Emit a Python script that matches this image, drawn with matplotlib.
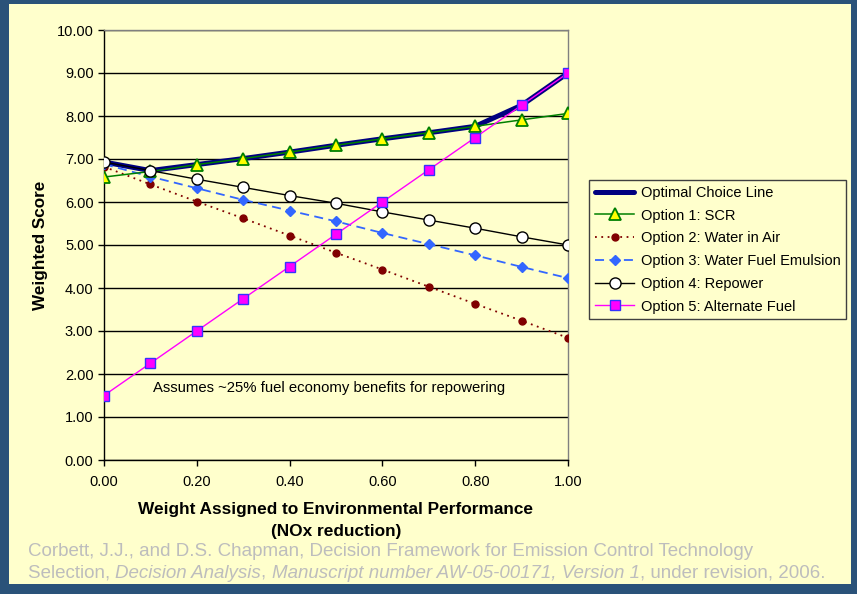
import matplotlib
matplotlib.use("Agg")
import matplotlib.pyplot as plt
from matplotlib.patches import Rectangle
from matplotlib.ticker import FormatStrFormatter, MultipleLocator

plt.rcParams['font.family'] = ['Liberation Sans', 'DejaVu Sans']

weights = [0.0, 0.1, 0.2, 0.3, 0.4, 0.5, 0.6, 0.7, 0.8, 0.9, 1.0]
scr = [6.58, 6.71, 6.87, 7.01, 7.16, 7.32, 7.47, 7.61, 7.76, 7.91, 8.06]
water_in_air = [6.82, 6.41, 6.01, 5.62, 5.22, 4.82, 4.43, 4.03, 3.63, 3.24, 2.84]
water_fuel = [6.88, 6.59, 6.32, 6.05, 5.80, 5.55, 5.28, 5.02, 4.76, 4.49, 4.23]
repower = [6.93, 6.73, 6.53, 6.34, 6.15, 5.97, 5.77, 5.58, 5.39, 5.19, 5.00]
alt_fuel = [1.50, 2.25, 3.00, 3.75, 4.50, 5.25, 6.00, 6.75, 7.50, 8.25, 9.00]
optimal = [max(v) for v in zip(scr, water_in_air, water_fuel, repower, alt_fuel)]

W, H = 857, 594
fig = plt.figure(figsize=(W / 100, H / 100), dpi=100, facecolor='#2A5279')
panel_color = '#FFFFCC'
fig.patches.append(Rectangle((9 / W, 1 - 584 / H), 842 / W, 580 / H,
                             transform=fig.transFigure, facecolor=panel_color,
                             edgecolor='none', zorder=-10))

ax = fig.add_axes([104 / W, 1 - 460 / H, 464 / W, 430 / H])
ax.set_facecolor(panel_color)

ax.plot(weights, optimal, color='#000080', lw=3.6, solid_capstyle='round',
        label='Optimal Choice Line', zorder=3)
ax.plot(weights, scr, color='#008000', lw=1.1, marker='^', ms=8,
        mfc='#FFFF00', mec='#008000', mew=1.3, label='Option 1: SCR', zorder=5)
ax.plot(weights, water_in_air, color='#800000', lw=1.3, ls=(0, (1, 2.5)),
        marker='o', ms=5, mfc='#800000', mec='#800000',
        label='Option 2: Water in Air', zorder=4)
ax.plot(weights, water_fuel, color='#3366FF', lw=1.3, ls=(0, (5, 3)),
        marker='D', ms=5.3, mfc='#3366FF', mec='#3366FF',
        label='Option 3: Water Fuel Emulsion', zorder=4)
ax.plot(weights, repower, color='black', lw=1.0, marker='o', ms=8,
        mfc='white', mec='black', mew=1.0, label='Option 4: Repower', zorder=6)
ax.plot(weights, alt_fuel, color='#FF00FF', lw=1.0, marker='s', ms=7,
        mfc='#FF00FF', mec='#3333FF', mew=1.0,
        label='Option 5: Alternate Fuel', zorder=6)

ax.set_xlim(0, 1)
ax.set_ylim(0, 10)
ax.xaxis.set_major_locator(MultipleLocator(0.2))
ax.yaxis.set_major_locator(MultipleLocator(1.0))
ax.xaxis.set_major_formatter(FormatStrFormatter('%.2f'))
ax.yaxis.set_major_formatter(FormatStrFormatter('%.2f'))
ax.grid(axis='y', color='black', lw=1.0, zorder=1)
ax.set_axisbelow(True)
for side in ('left', 'bottom'):
    ax.spines[side].set_color('black')
    ax.spines[side].set_linewidth(1.0)
for side in ('top', 'right'):
    ax.spines[side].set_color('#808080')
    ax.spines[side].set_linewidth(1.0)
ax.tick_params(axis='both', direction='out', length=4, width=1, color='black',
               labelsize=10.5, labelcolor='black')
ax.tick_params(axis='x', pad=7)

ax.set_ylabel('Weighted Score', fontsize=12.3, fontweight='bold', labelpad=6)
ax.set_xlabel('Weight Assigned to Environmental Performance\n(NOx reduction)',
              fontsize=12.4, fontweight='bold', labelpad=9, linespacing=1.6)

ax.text(0.105, 1.67, 'Assumes ~25% fuel economy benefits for repowering',
        fontsize=10.7, color='black', va='center', zorder=7)

leg = fig.legend(loc='upper left', bbox_to_anchor=(589 / W, 1 - 180 / H),
                 bbox_transform=fig.transFigure, fontsize=10.5, frameon=True,
                 fancybox=False, edgecolor='#404040', facecolor=panel_color,
                 framealpha=1, handlelength=2.7, handletextpad=0.45,
                 labelspacing=0.6, borderpad=0.4, borderaxespad=0)
leg.get_frame().set_linewidth(1.0)

# Citation set as runs of regular and italic text
cap_color = '#BDBDBD'
cap_size = 13.5
renderer = fig.canvas.get_renderer()


def text_runs(x_px, y_px, runs):
    x = x_px
    for s, style in runs:
        t = fig.text(x / W, 1 - y_px / H, s, fontsize=cap_size, color=cap_color,
                     style=style, va='center', ha='left')
        x += t.get_window_extent(renderer).width


text_runs(28, 551, [('Corbett, J.J., and D.S. Chapman, Decision Framework for '
                     'Emission Control Technology', 'normal')])
text_runs(28, 573, [('Selection, ', 'normal'),
                    ('Decision Analysis', 'italic'),
                    (', ', 'normal'),
                    ('Manuscript number AW-05-00171, Version 1', 'italic'),
                    (', under revision, 2006.', 'normal')])

fig.savefig('out.png', dpi=100, facecolor=fig.get_facecolor())
